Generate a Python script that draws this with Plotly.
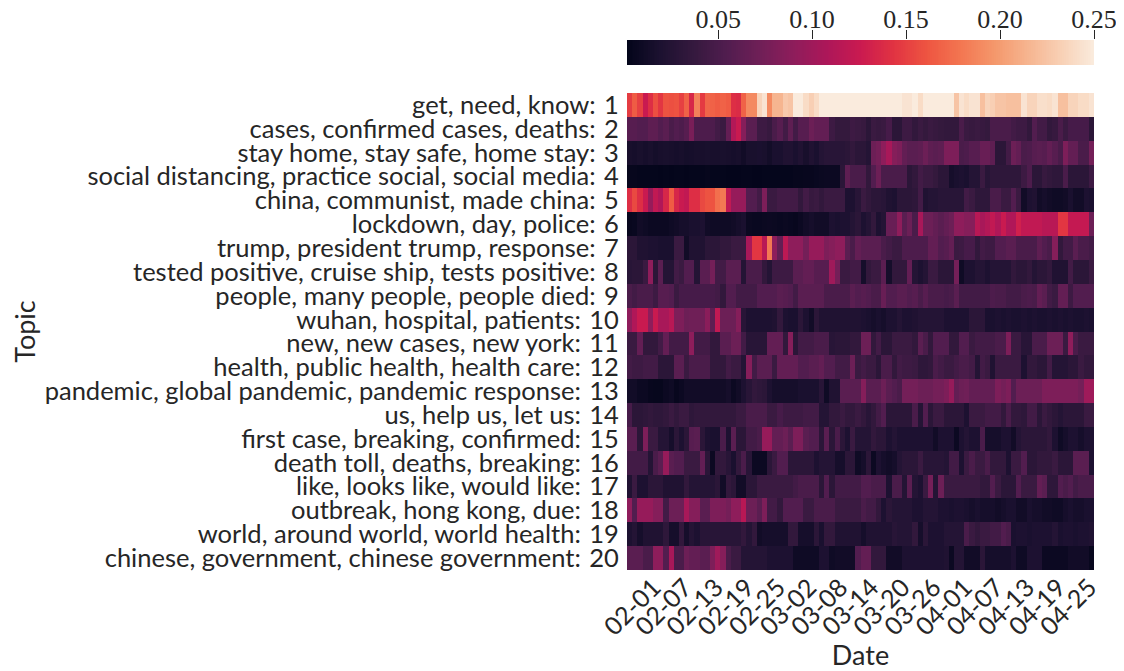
import numpy as np
import pandas as pd
import plotly.graph_objects as go

W, H = 1116, 663   # the page adds an 8 px margin round the figure
OFF = 8
SANS = "Lato"
SERIF = "Liberation Serif"
INK = "#262626"

topics = [
    "get, need, know", "cases, confirmed cases, deaths", "stay home, stay safe, home stay",
    "social distancing, practice social, social media", "china, communist, made china",
    "lockdown, day, police", "trump, president trump, response",
    "tested positive, cruise ship, tests positive", "people, many people, people died",
    "wuhan, hospital, patients", "new, new cases, new york", "health, public health, health care",
    "pandemic, global pandemic, pandemic response", "us, help us, let us",
    "first case, breaking, confirmed", "death toll, deaths, breaking", "like, looks like, would like",
    "outbreak, hong kong, due", "world, around world, world health",
    "chinese, government, chinese government",
]
dates = [d.strftime("%m-%d") for d in pd.date_range("2020-02-01", "2020-04-30")]
date_ticks = ["02-01", "02-07", "02-13", "02-19", "02-25", "03-02", "03-08", "03-14",
              "03-20", "03-26", "04-01", "04-07", "04-13", "04-19", "04-25"]
scale_ticks = [0.05, 0.10, 0.15, 0.20, 0.25]
scale_min, scale_max = 0.0015, 0.25

# Topic shares per day, in thousandths
t01 = [148,165,150,125,140,158,145,160,158,160, 150,168,135,185,147,170,168,165,168,165,
       140,138,168,190,190,235,245,190,215,215, 228,225,250,250,240,232,240,250,250,250,
       250,250,250,250,250,250,250,250,250,250, 250,250,250,245,245,250,240,250,250,250,
       250,250,250,225,245,240,245,245,222,235, 232,225,225,222,222,222,245,235,235,242,
       242,240,245,222,222,235,235,240,240,245]
t02 = [58,58,55,55,62,62,55,60,50,55, 52,58,78,52,52,52,52,45,40,65,
       112,125,85,60,60,42,42,38,50,58, 45,62,45,58,58,70,65,65,65,42,
       36,36,36,42,40,38,30,40,38,40, 48,30,30,42,42,35,40,36,40,38,
       36,35,35,35,50,40,38,40,38,36, 50,50,50,50,45,42,42,35,55,45,
       45,35,38,50,40,48,48,48,48,30]
t03 = [16,15,17,15,17,14,16,17,16,15, 16,14,15,16,16,17,16,16,17,16,
       15,16,12,17,17,18,17,13,18,18, 22,22,18,22,16,22,18,25,28,28,
       28,28,30,35,30,30,25,70,75,90, 105,85,80,65,60,60,62,70,62,60,
       62,80,80,80,50,52,58,58,68,68, 62,30,30,45,70,65,50,52,58,60,
       58,65,58,50,80,65,65,50,50,75]
t04 = [4,4,3,3,3,3,2,3,2,3, 3,2,3,3,3,4,3,3,3,2,
       2,2,3,3,2,2,3,3,3,3, 3,3,4,4,5,5,6,7,8,8,
       8,30,62,50,50,50,35,55,70,50, 50,50,50,50,30,35,45,40,40,36,
       30,30,15,18,20,18,25,25,40,28, 32,32,32,32,32,32,42,52,30,30,
       38,35,32,32,50,30,30,30,30,42]
t05 = [140,155,140,125,95,120,110,135,165,135, 125,120,140,140,155,160,160,175,180,120,
       95,95,95,55,55,45,80,40,40,45, 45,45,45,35,45,38,40,35,40,40,
       40,40,20,20,28,40,35,30,30,28, 22,20,30,30,30,32,45,22,25,25,
       28,28,28,28,28,45,40,32,32,32, 50,50,40,40,55,40,12,20,22,12,
       15,12,10,10,12,18,12,12,20,18]
t06 = [5,6,12,10,8,8,8,8,10,12, 15,15,18,18,20,12,10,10,10,10,
       12,15,18,7,6,6,7,8,7,6, 7,6,5,8,12,15,12,12,12,20,
       18,20,20,25,30,20,25,35,20,25, 68,68,90,60,70,50,105,70,70,65,
       60,65,70,90,90,85,85,115,105,112, 120,110,125,110,110,130,120,120,120,120,
       115,115,115,145,145,122,122,122,122,70]
t07 = [30,30,22,22,20,20,18,18,18,40, 40,12,22,22,22,30,30,30,35,35,
       40,40,40,105,145,145,115,180,90,65, 118,90,90,90,75,95,95,95,80,85,
       90,90,60,50,65,60,60,60,60,50, 45,40,40,52,52,52,52,52,65,65,
       55,58,65,40,42,48,48,35,45,42, 42,55,55,60,60,50,50,50,50,62,
       55,50,85,35,45,45,60,50,50,45]
t08 = [28,30,30,40,90,30,60,25,25,45, 40,55,55,25,60,60,75,45,45,60,
       60,60,25,50,50,50,35,25,42,42, 42,42,60,60,65,65,58,58,58,100,
       75,40,40,45,45,15,35,40,40,60, 15,35,35,35,65,25,20,25,40,40,
       30,30,30,75,10,20,20,25,25,20, 25,25,25,25,35,30,30,35,25,30,
       30,35,22,22,22,45,30,30,30,40]
t09 = [50,45,50,50,50,42,58,58,55,40, 48,48,48,48,48,48,48,45,35,55,
       55,45,45,45,45,55,55,55,55,60, 58,55,45,60,60,60,60,60,50,50,
       50,50,50,60,55,58,55,50,50,68, 55,55,60,60,55,58,50,58,50,50,
       50,48,50,60,45,45,45,45,45,45, 52,50,50,45,45,45,50,52,50,65,
       60,45,40,65,65,42,55,55,55,55]
t10 = [90,110,125,125,90,125,105,105,115,80, 80,70,72,72,72,88,62,120,70,70,
       70,85,28,20,20,20,20,20,22,35, 20,18,18,30,20,12,30,22,22,22,
       22,22,22,22,22,20,18,15,18,15, 20,20,25,20,20,22,25,25,25,25,
       25,20,20,20,20,20,30,30,30,18, 18,20,18,20,18,18,20,18,20,18,
       18,20,18,20,18,20,18,18,20,18]
t11 = [40,40,65,35,35,35,45,65,45,45, 45,45,90,45,45,45,35,35,60,60,
       70,70,45,28,28,28,28,65,65,65, 35,85,30,45,45,45,50,50,50,28,
       30,30,30,35,35,70,70,35,45,30, 30,40,40,40,40,35,60,50,35,55,
       55,55,35,35,55,55,40,45,45,45, 45,50,50,80,40,40,28,28,50,50,
       50,70,70,70,40,90,50,40,40,40]
t12 = [45,42,42,45,45,45,30,30,30,60, 60,40,50,50,50,50,35,35,35,45,
       40,40,25,85,45,60,60,60,40,65, 65,65,65,55,55,60,60,65,55,55,
       45,45,45,70,40,45,40,40,30,50, 50,35,45,42,42,40,32,32,35,50,
       45,40,40,45,50,50,45,25,45,40, 22,40,40,40,40,40,20,35,35,30,
       30,45,25,25,25,30,30,40,35,35]
t13 = [12,12,8,8,5,4,4,8,10,5, 8,12,12,12,12,12,12,12,12,15,
       8,12,20,28,35,32,30,20,15,15, 15,15,15,18,18,18,18,28,10,22,
       22,60,60,60,60,85,60,60,60,70, 60,55,50,75,75,75,70,70,70,75,
       75,80,95,65,70,72,65,65,65,65, 65,80,75,80,55,70,70,70,70,70,
       80,80,80,80,80,80,80,75,100,100]
t14 = [48,30,30,32,35,32,32,35,40,35, 40,40,32,35,35,35,35,35,35,35,
       35,40,40,50,50,50,50,40,40,48, 42,42,42,42,45,45,45,25,25,35,
       35,40,35,35,40,35,28,35,45,55, 30,30,30,30,30,50,25,55,30,40,
       40,30,30,30,30,20,40,40,40,45, 45,45,35,50,35,35,32,45,45,30,
       40,35,30,25,30,30,30,30,40,40]
t15 = [60,60,30,80,40,40,25,25,15,30, 20,30,58,60,30,20,18,18,50,20,
       60,30,30,45,45,50,95,95,65,65, 70,60,80,80,60,55,55,30,60,30,
       50,30,20,40,25,25,25,35,30,30, 20,25,20,20,20,20,20,20,20,12,
       20,20,20,8,20,25,20,20,50,15, 15,15,20,20,12,25,30,30,30,30,
       30,35,20,10,15,20,20,15,20,20]
t16 = [45,45,45,45,25,50,60,95,60,55, 55,40,40,40,65,30,8,35,35,28,
       18,35,50,28,8,8,8,30,40,55, 55,30,30,30,30,30,20,25,25,25,
       15,15,30,30,10,15,30,8,20,15, 12,15,25,30,30,30,40,28,28,28,
       28,25,45,45,20,40,50,40,40,50, 35,35,35,20,40,40,55,30,30,35,
       35,35,40,30,30,30,60,60,60,20]
t17 = [22,40,20,20,30,30,30,22,22,22, 22,35,25,25,25,25,25,30,12,35,
       30,12,12,30,30,40,40,40,40,40, 40,40,45,50,50,50,50,30,55,30,
       45,45,45,45,45,55,55,50,50,50, 20,50,50,25,60,25,20,40,75,25,
       70,40,40,40,40,40,40,40,35,35, 55,40,30,30,30,55,40,40,40,65,
       60,32,32,55,50,55,45,50,50,50]
t18 = [90,55,95,95,95,85,85,45,70,70, 70,105,85,85,60,60,80,80,80,75,
       90,90,115,70,70,60,80,45,45,35, 55,55,55,55,40,40,50,50,50,50,
       40,40,40,40,40,50,45,45,35,20, 30,25,25,25,25,20,20,25,25,25,
       20,20,18,20,20,18,15,18,15,15, 15,12,15,18,18,12,12,18,15,15,
       12,12,10,10,15,18,15,15,18,18]
t19 = [20,25,15,22,22,22,22,32,15,15, 35,15,25,20,28,28,28,28,28,28,
       28,28,35,25,35,12,15,15,15,15, 15,35,35,15,15,15,30,18,35,35,
       22,22,22,22,22,15,22,22,22,22, 22,28,25,25,25,35,15,30,20,20,
       20,25,25,25,25,50,40,35,40,40, 45,45,55,50,18,20,20,18,20,20,
       20,20,25,18,20,20,18,20,20,22]
t20 = [60,60,60,50,50,90,90,55,105,50, 50,70,65,65,60,60,80,100,85,50,
       40,40,25,25,25,25,25,20,20,20, 20,20,10,10,10,10,10,20,20,10,
       12,12,12,12,55,65,65,35,35,35, 12,12,12,20,20,20,20,20,20,20,
       20,22,8,25,25,12,12,12,30,15, 15,15,15,15,20,10,10,20,20,20,
       8,8,8,8,8,12,12,12,12,5]

rows = [t01,t02,t03,t04,t05,t06,t07,t08,t09,t10,t11,t12,t13,t14,t15,t16,t17,t18,t19,t20]
z = np.array(rows) / 1000.0

rocket = [[0.0, "#03051a"], [0.071, "#1c1130"], [0.143, "#35193e"], [0.214, "#511d4f"],
          [0.286, "#701f57"], [0.357, "#8e1d5b"], [0.429, "#ad1759"], [0.5, "#ca1a50"],
          [0.571, "#e13342"], [0.643, "#ee5541"], [0.714, "#f37651"], [0.786, "#f4976b"],
          [0.857, "#f6b48f"], [0.929, "#f8d0b5"], [1.0, "#faebdd"]]

# labels are right-aligned; a three-per-em space gives the wide gap before the number
labels = [f"{t}:\u2004{i + 1}" for i, t in enumerate(topics)]
gradient = np.linspace(scale_min, scale_max, 256)

def xd(px):
    return (px - OFF) / W

def yd(px):
    return 1 - (px - OFF) / H

fig = go.Figure()
fig.add_trace(go.Heatmap(z=z, x=dates, y=labels, colorscale=rocket, zmin=scale_min, zmax=scale_max,
                         showscale=False, xaxis="x", yaxis="y"))
fig.add_trace(go.Heatmap(z=[gradient], x=gradient, y=[0], colorscale=rocket, zmin=scale_min, zmax=scale_max,
                         showscale=False, xaxis="x2", yaxis="y2", hoverinfo="skip"))

x_dom = [xd(627), xd(1094)]
label_font = dict(size=25.5, family=SANS, color=INK)
date_font = dict(size=25, family=SANS, color=INK)
title_font = dict(size=27, family=SANS, color=INK)
fig.update_layout(
    width=W, height=H, autosize=False,
    margin=dict(l=0, r=0, t=0, b=0),
    paper_bgcolor="white", plot_bgcolor="white",
    font=dict(family=SANS, color=INK),
    xaxis=dict(domain=x_dom, anchor="y", type="category", categoryorder="array", categoryarray=dates,
               tickmode="array", tickvals=date_ticks, ticktext=date_ticks,
               tickangle=-45, tickfont=date_font, ticklabelshift=24, ticklabelstandoff=-3, nticks=0,
               ticks="", showgrid=False, zeroline=False, showline=False, automargin=False,
               title=dict(text="Date", font=title_font, standoff=8)),
    yaxis=dict(domain=[yd(570), yd(93)], anchor="x", type="category", autorange="reversed", tickmode="array",
               tickvals=labels, ticktext=labels, tickfont=label_font,
               ticks="outside", ticklen=2, tickcolor="rgba(0,0,0,0)", showgrid=False, zeroline=False,
               showline=False, automargin=False,
               title=dict(text="Topic", font=title_font, standoff=8)),
    xaxis2=dict(domain=x_dom, anchor="y2", side="top", range=[scale_min, scale_max], tickmode="array",
                tickvals=scale_ticks, ticktext=[f"{v:.2f}" for v in scale_ticks],
                tickfont=dict(size=26, family=SERIF, color=INK), ticks="outside", ticklen=9, tickwidth=1.3,
                ticklabelstandoff=-8, tickcolor=INK, showgrid=False, zeroline=False, showline=False,
                automargin=False),
    yaxis2=dict(domain=[yd(65), yd(40)], anchor="x2", showticklabels=False, ticks="",
                showgrid=False, zeroline=False, showline=False, automargin=False),
)
fig.write_html("out.html")
